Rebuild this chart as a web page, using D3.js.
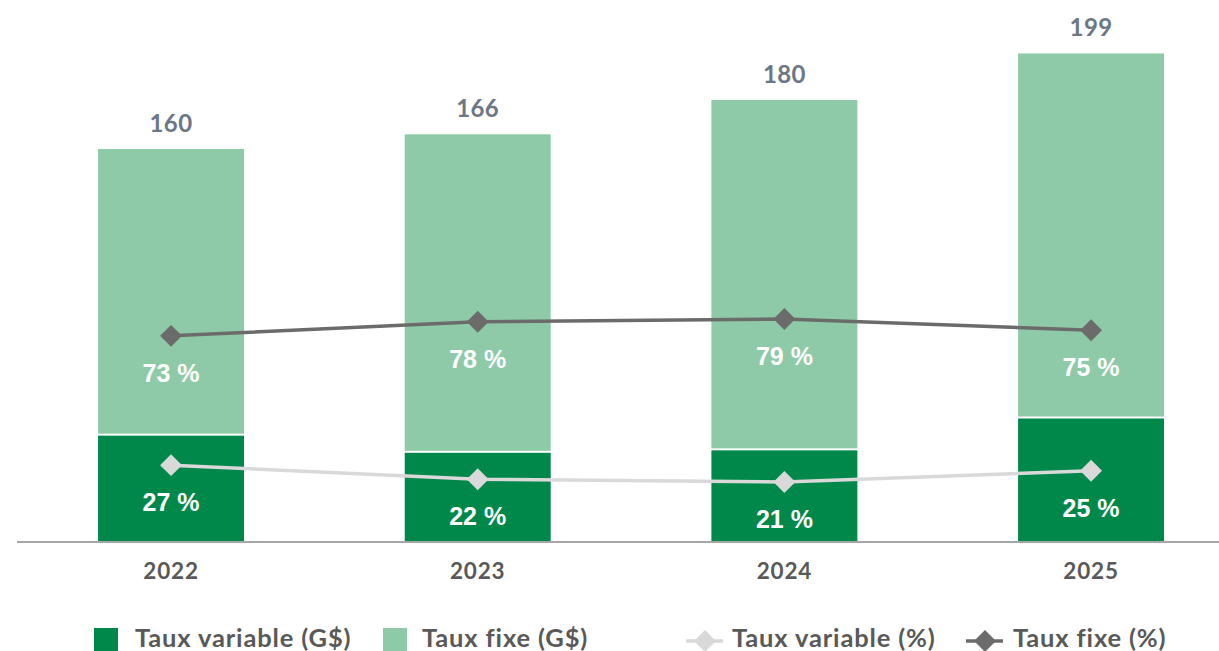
<!DOCTYPE html>
<html>
<head>
<meta charset="utf-8">
<script src="https://cdn.jsdelivr.net/npm/d3@7/dist/d3.min.js"></script>
<style>
  html, body { margin: 0; padding: 0; background: #fff; }
  svg { display: block; }
</style>
</head>
<body>
<svg id="chart" width="1219" height="651"></svg>
<script>
// ---- data ----
const years = ["2022", "2023", "2024", "2025"];
const totals = [160, 166, 180, 199];
const variableAmt = [43, 36, 37, 50];      // Taux variable (G$)
const fixedAmt = [117, 130, 143, 149];     // Taux fixe (G$)
const variablePct = [27, 22, 21, 25];      // Taux variable (%)
const fixedPct = [73, 78, 79, 75];         // Taux fixe (%)
const legendLabels = ["Taux variable (G$)", "Taux fixe (G$)", "Taux variable (%)", "Taux fixe (%)"];

// ---- styles ----
const C = {
  dark: "#00884b",
  light: "#8fcaa8",
  varLine: "#d9d9d9",
  fixLine: "#6b6b6b",
  total: "#6b7785",
  text: "#595959",
  axis: "#a6a6a6"
};

const svg = d3.select("#chart");
const baseY = 541;

const x = d3.scaleBand()
  .domain(years)
  .range([17.7, 1244.4])
  .paddingInner(0.524)
  .paddingOuter(0.262);

const y = d3.scaleLinear().domain([0, 200]).range([baseY, baseY - 490]);
const yp = d3.scaleLinear().domain([0, 100]).range([baseY, 260]);

const rows = years.map((yr, i) => ({
  yr, total: totals[i], v: variableAmt[i], f: fixedAmt[i], vp: variablePct[i], fp: fixedPct[i]
}));

// bars
const g = svg.append("g");
g.selectAll("rect.dark").data(rows).join("rect")
  .attr("class", "dark")
  .attr("x", d => x(d.yr))
  .attr("width", x.bandwidth())
  .attr("y", d => y(d.v))
  .attr("height", d => baseY - y(d.v))
  .attr("fill", C.dark);

g.selectAll("rect.light").data(rows).join("rect")
  .attr("class", "light")
  .attr("x", d => x(d.yr))
  .attr("width", x.bandwidth())
  .attr("y", d => y(d.v + d.f))
  .attr("height", d => y(d.v) - y(d.v + d.f) - 2)
  .attr("fill", C.light);

// axis line
const xAxis = d3.axisBottom(x).tickSize(0).tickPadding(0);
const axG = svg.append("g").attr("transform", `translate(0,${baseY + 1})`).call(xAxis);
axG.select(".domain").attr("d", "M17,0H1219").attr("stroke", C.axis).attr("stroke-width", 2);
axG.selectAll(".tick text")
  .attr("y", 37)
  .attr("dy", 0)
  .attr("font-family", "Lato, 'Open Sans', sans-serif")
  .attr("font-weight", 700)
  .attr("font-size", 22.5)
  .attr("letter-spacing", 0.8)
  .attr("fill", C.text);

// total labels
g.selectAll("text.total").data(rows).join("text")
  .attr("class", "total")
  .attr("x", d => x(d.yr) + x.bandwidth() / 2)
  .attr("y", d => y(d.total) - 17)
  .attr("text-anchor", "middle")
  .attr("font-family", "Lato, 'Open Sans', sans-serif")
  .attr("font-weight", 700)
  .attr("font-size", 24)
  .attr("letter-spacing", 0.4)
  .attr("fill", C.total)
  .text(d => d.total);

// lines
const cx = d => x(d.yr) + x.bandwidth() / 2;
const lineV = d3.line().x(cx).y(d => yp(d.vp));
const lineF = d3.line().x(cx).y(d => yp(d.fp));
const diamond = d3.symbol().type(d3.symbolSquare).size(240);

function drawSeries(lineGen, acc, color) {
  svg.append("path").datum(rows)
    .attr("d", lineGen)
    .attr("fill", "none")
    .attr("stroke", color)
    .attr("stroke-width", 3.5);
  svg.selectAll(null).data(rows).join("path")
    .attr("d", diamond)
    .attr("transform", d => `translate(${cx(d)},${yp(acc(d))}) rotate(45)`)
    .attr("fill", color);
  svg.selectAll(null).data(rows).join("text")
    .attr("x", cx)
    .attr("y", d => yp(acc(d)) + 46)
    .attr("text-anchor", "middle")
    .attr("font-family", "'Liberation Sans', Arial, sans-serif")
    .attr("font-weight", 700)
    .attr("font-size", 25)
    .attr("fill", "#ffffff")
    .text(d => acc(d) + " %");
}
drawSeries(lineV, d => d.vp, C.varLine);
drawSeries(lineF, d => d.fp, C.fixLine);

// legend
const leg = svg.append("g");
const items = [
  { type: "rect", color: C.dark, sx: 94, tx: 135, label: legendLabels[0] },
  { type: "rect", color: C.light, sx: 383, tx: 422, label: legendLabels[1] },
  { type: "line", color: C.varLine, sx: 686, tx: 732, label: legendLabels[2] },
  { type: "line", color: C.fixLine, sx: 966, tx: 1013, label: legendLabels[3] }
];
items.forEach(it => {
  if (it.type === "rect") {
    leg.append("rect").attr("x", it.sx).attr("y", 628).attr("width", 24).attr("height", 24).attr("fill", it.color);
  } else {
    leg.append("line").attr("x1", it.sx).attr("x2", it.sx + 37).attr("y1", 641).attr("y2", 641)
      .attr("stroke", it.color).attr("stroke-width", 3.5);
    leg.append("path").attr("d", diamond)
      .attr("transform", `translate(${it.sx + 19},641) rotate(45)`).attr("fill", it.color);
  }
  leg.append("text")
    .attr("x", it.tx).attr("y", 647)
    .attr("font-family", "Lato, 'Open Sans', sans-serif")
    .attr("font-weight", 700)
    .attr("font-size", 25.5)
    .attr("letter-spacing", 0.85)
    .attr("fill", C.text)
    .text(it.label);
});
</script>
</body>
</html>
